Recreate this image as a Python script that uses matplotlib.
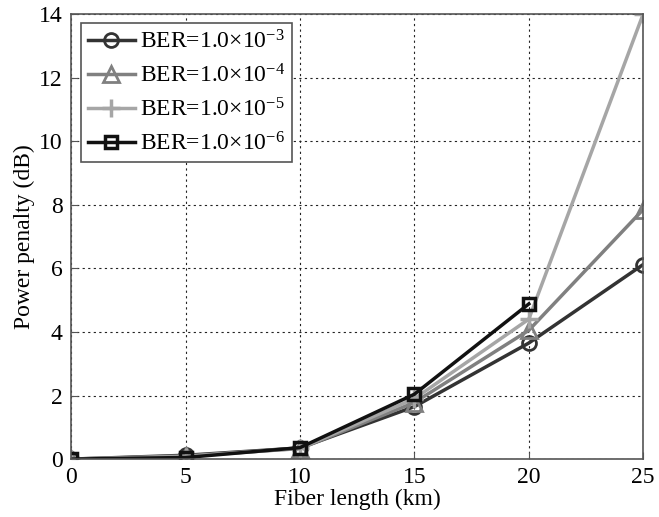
import matplotlib
matplotlib.use("Agg")
import matplotlib.pyplot as plt

x_km = [0, 5, 10, 15, 20, 25]
ber3 = [0, 0.12, 0.35, 1.65, 3.65, 6.12]
ber4 = [0, 0.10, 0.33, 1.78, 4.05, 7.85]
ber5 = [0, 0.08, 0.34, 1.90, 4.40, 14.0]
x_km6 = [0, 5, 10, 15, 20]
ber6 = [0, 0.05, 0.36, 2.04, 4.88]

labels = [r"BER=1.0$\times$10$^{-3}$", r"BER=1.0$\times$10$^{-4}$",
          r"BER=1.0$\times$10$^{-5}$", r"BER=1.0$\times$10$^{-6}$"]

plt.rcParams['font.family'] = ['Liberation Serif', 'DejaVu Serif']
plt.rcParams['mathtext.fontset'] = 'custom'
plt.rcParams['mathtext.rm'] = 'Liberation Serif'
plt.rcParams['mathtext.it'] = 'Liberation Serif'

fig = plt.figure(figsize=(6.59, 5.17), dpi=100)
ax = fig.add_axes([0.108, 0.112, 0.868, 0.861])

lw = 2.5
ax.plot(x_km, ber3, color='#333333', lw=lw, marker='o', ms=10, mfc='none', mew=2, label=labels[0])
ax.plot(x_km, ber4, color='#808080', lw=lw, marker='^', ms=11, mfc='none', mew=2, label=labels[1])
ax.plot(x_km, ber5, color='#a6a6a6', lw=lw, marker='+', ms=13, mew=2.5, label=labels[2])
ax.plot(x_km6, ber6, color='#111111', lw=lw, marker='s', ms=9, mfc='none', mew=2.5, label=labels[3])

ax.set_xlim(0, 25)
ax.set_ylim(0, 14)
ax.set_xticks([0, 5, 10, 15, 20, 25])
ax.set_yticks([0, 2, 4, 6, 8, 10, 12, 14])
ax.grid(True, linestyle=(0, (2, 3)), color='#222222', linewidth=0.8)
ax.tick_params(direction='in', labelsize=17, length=5, color='#555555', pad=6)
for s in ax.spines.values():
    s.set_color('#555555')
    s.set_linewidth(1.2)
ax.set_xlabel('Fiber length (km)', fontsize=17, labelpad=0)
ax.set_ylabel('Power penalty (dB)', fontsize=17, labelpad=3)

leg = ax.legend(loc='upper left', fontsize=17, frameon=True, fancybox=False,
                edgecolor='#555555', framealpha=1, handlelength=2.0,
                borderpad=0.3, labelspacing=0.45, handletextpad=0.2, borderaxespad=0.4)
leg.get_frame().set_linewidth(1.2)

fig.savefig('out.png', dpi=100)
